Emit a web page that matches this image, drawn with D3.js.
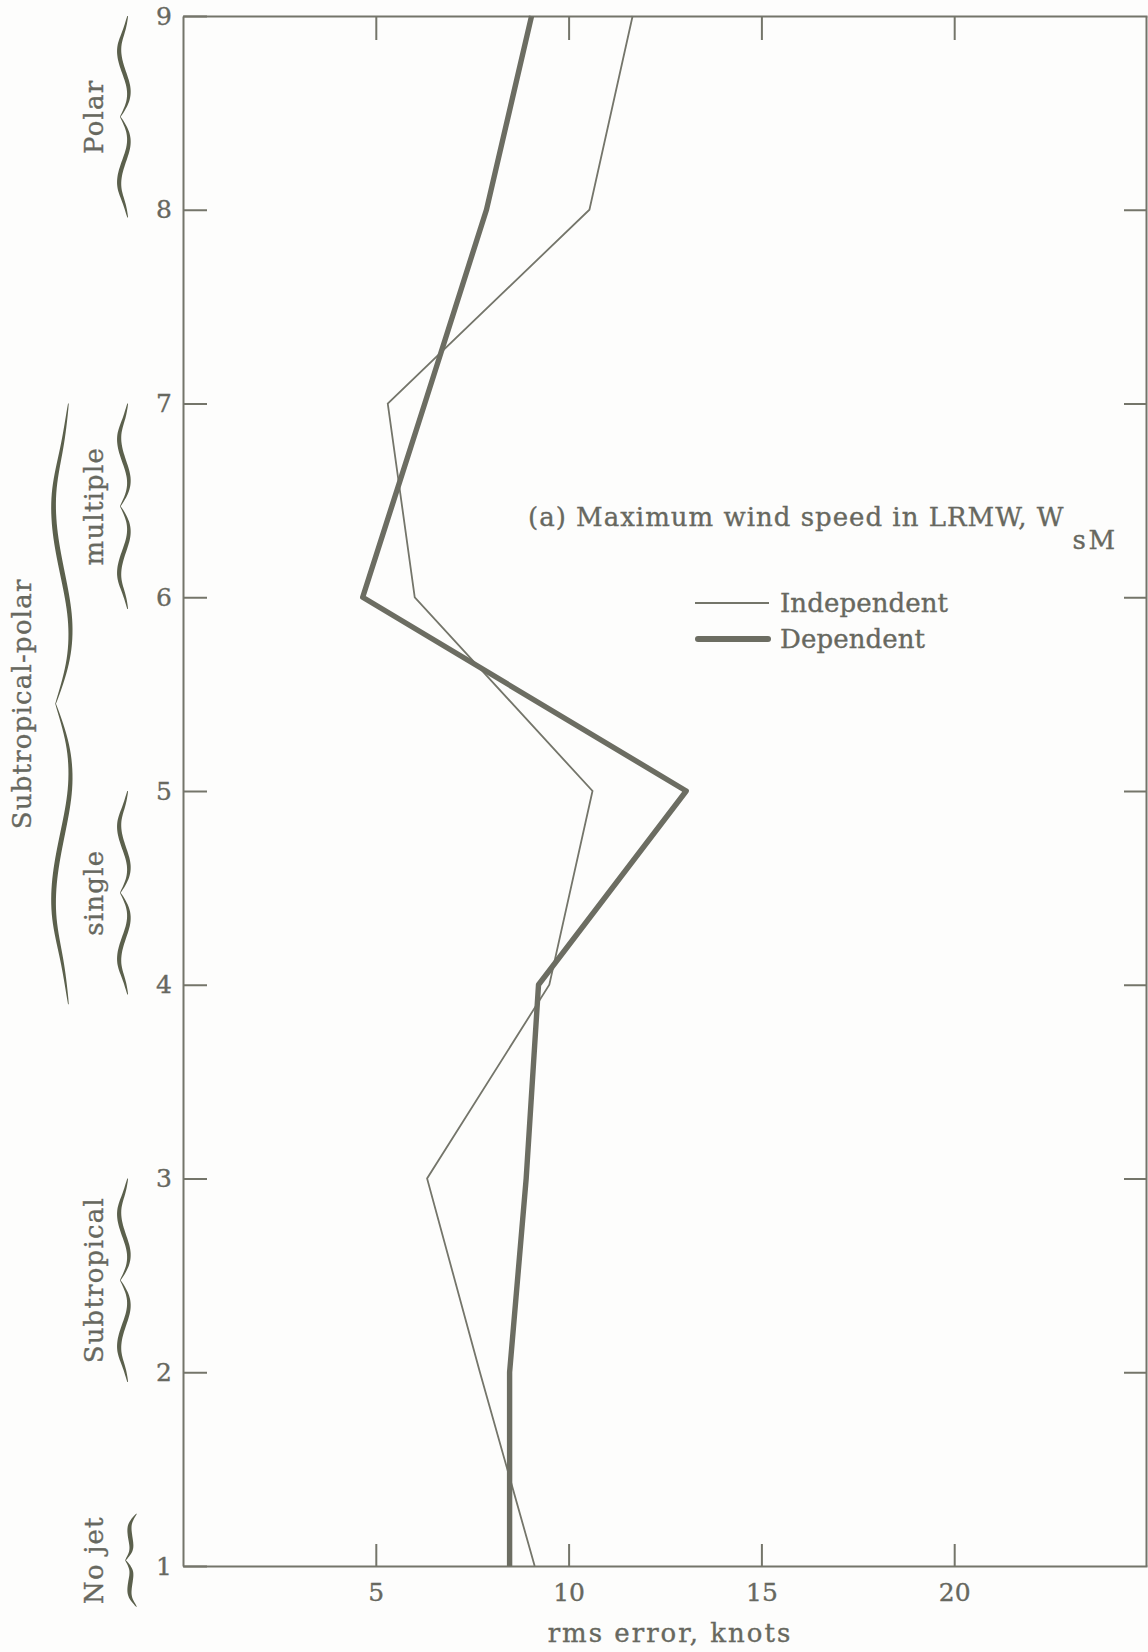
<!DOCTYPE html>
<html>
<head>
<meta charset="utf-8">
<script src="https://cdn.jsdelivr.net/npm/d3@7"></script>
<style>
  html, body { margin: 0; padding: 0; background: #fdfdfc; }
  svg { display: block; }
  text { font-family: "DejaVu Serif", "Liberation Serif", serif; fill: #67685f; stroke: #67685f; stroke-width: 0.35px; }
</style>
</head>
<body>
<svg id="chart" width="1148" height="1652"></svg>
<script>
// Jet-type level (y) and rms error of forecast maximum wind speed (knots)
const levels = [1, 2, 3, 4, 5, 6, 7, 8, 9];
const independent = [9.12, 7.7, 6.33, 9.5, 10.62, 6.01, 5.31, 10.54, 11.66];
const dependent = [8.47, 8.47, 8.9, 9.22, 13.05, 4.66, 6.27, 7.87, 9.04];

const yTicks = [1, 2, 3, 4, 5, 6, 7, 8, 9];
const xTicks = [5, 10, 15, 20];

// Jet classification brackets along the level axis
const groupLabels = ["Polar", "multiple", "single", "Subtropical", "No jet", "Subtropical-polar"];
const groupFrom = [7.96, 5.94, 3.95, 1.95, 0.79, 3.9];
const groupTo = [9.0, 7.0, 5.0, 3.0, 1.27, 7.0];
const groupOuter = [false, false, false, false, false, true];

const titleText = "(a) Maximum wind speed in LRMW, W";
const titleSub = "sM";
const seriesNames = ["Independent", "Dependent"];
const xTitle = "rms error, knots";

const ink = "#74756a";
const heavy = "#6c6d62";
const svg = d3.select("#chart");

const x = d3.scaleLinear().domain([0, 25]).range([183, 1147]);
const y = d3.scaleLinear().domain([1, 9]).range([1566, 16]);

// Frame with inward ticks on all four sides
function styleAxis(g) {
  g.selectAll("path.domain").attr("stroke", ink).attr("stroke-width", 2);
  g.selectAll(".tick line").attr("stroke", ink).attr("stroke-width", 2);
  g.selectAll(".tick text").attr("font-family", "DejaVu Serif").attr("fill", "#67685f");
}

svg.append("g").attr("transform", `translate(${x(0)},0)`)
  .call(d3.axisLeft(y).tickValues(yTicks).tickSize(-24).tickSizeOuter(0).tickPadding(11).tickFormat(d3.format("d")))
  .call(styleAxis)
  .selectAll(".tick text").attr("font-size", 25);

svg.append("g").attr("transform", `translate(0,${y(1)})`)
  .call(d3.axisBottom(x).tickValues(xTicks).tickSize(-22).tickSizeOuter(0).tickPadding(17).tickFormat(d3.format("d")))
  .call(styleAxis)
  .selectAll(".tick text").attr("font-size", 25);

svg.append("g").attr("transform", `translate(0,${y(9)})`)
  .call(d3.axisTop(x).tickValues(xTicks).tickSize(-24).tickSizeOuter(0).tickFormat(""))
  .call(styleAxis);

svg.append("g").attr("transform", `translate(${x(25) - 1},0)`)
  .call(d3.axisRight(y).tickValues(yTicks.slice(1, -1)).tickSize(-22).tickSizeOuter(0).tickFormat(""))
  .call(styleAxis);

// Series lines
const line = (vals) => d3.line()
  .x((d, i) => x(vals[i]))
  .y((d) => y(d))(levels);

svg.append("path").attr("d", line(independent))
  .attr("fill", "none").attr("stroke", ink).attr("stroke-width", 1.8)
  .attr("stroke-linejoin", "miter");
svg.append("path").attr("d", line(dependent))
  .attr("fill", "none").attr("stroke", heavy).attr("stroke-width", 5.4)
  .attr("stroke-linejoin", "round").attr("stroke-linecap", "butt");

// Curly bracket drawn as a tapered filled outline
function bracePath(cx, yTop, yBot, amp, wmax, wiggle) {
  const H = (yBot - yTop) / 2;
  const g = wiggle
    ? d3.interpolateBasis([0.8, 0.1, -1.2, -1.0, 0.1, 1.2, 1.0, -0.8])
    : d3.interpolateBasis([1.0, -0.3, -0.3, 0.0, 0.2, -1.0]);
  const n = 60;
  const left = [], right = [];
  const push = (f, yy) => {
    const cxx = cx + amp * g(f);
    const w = wmax * Math.pow(Math.sin(Math.PI * f), 0.7) + 0.7;
    left.push([cxx - w / 2, yy]);
    right.push([cxx + w / 2, yy]);
  };
  for (let i = 0; i <= n; i++) { const f = i / n; push(f, yTop + f * H); }
  for (let i = n - 1; i >= 0; i--) { const f = i / n; push(f, yBot - f * H); }
  return d3.line()(left.concat(right.reverse())) + "Z";
}

groupLabels.forEach((label, i) => {
  const outer = groupOuter[i];
  const y0 = y(groupTo[i]), y1 = y(groupFrom[i]);
  const short = (y1 - y0) < 120;
  const cx = outer ? 62 : (short ? 131 : 124);
  const amp = outer ? 8 : (short ? 5.5 : 4.6);
  svg.append("path")
    .attr("d", bracePath(cx, y0, y1, amp, outer ? 4.4 : 3.8, !short))
    .attr("fill", "#5b604c");
  const lx = outer ? 22 : 94;
  const ly = (y0 + y1) / 2;
  svg.append("text")
    .attr("transform", `translate(${lx},${ly}) rotate(-90)`)
    .attr("text-anchor", "middle")
    .attr("dominant-baseline", "central")
    .attr("font-size", 26)
    .attr("letter-spacing", 1.2)
    .text(label);
});

// Panel title with subscript
const title = svg.append("text")
  .attr("x", 528).attr("y", 526)
  .attr("font-size", 26).attr("letter-spacing", 1.0);
title.append("tspan").text(titleText);
title.append("tspan").attr("dx", 8).attr("dy", 23).attr("letter-spacing", 2.5).text(titleSub);

// Legend
const legendY = [603, 639];
svg.append("line").attr("x1", 695).attr("x2", 769).attr("y1", legendY[0]).attr("y2", legendY[0])
  .attr("stroke", ink).attr("stroke-width", 1.8);
svg.append("line").attr("x1", 698).attr("x2", 768).attr("y1", legendY[1]).attr("y2", legendY[1])
  .attr("stroke", heavy).attr("stroke-width", 6).attr("stroke-linecap", "round");
seriesNames.forEach((name, i) => {
  svg.append("text").attr("x", 780).attr("y", legendY[i])
    .attr("dominant-baseline", "central")
    .attr("font-size", 26).attr("letter-spacing", 0.1)
    .text(name);
});

// Axis title
svg.append("text").attr("x", 670).attr("y", 1633)
  .attr("text-anchor", "middle").attr("dominant-baseline", "central")
  .attr("font-size", 26).attr("letter-spacing", 2.0)
  .text(xTitle);
</script>
</body>
</html>
